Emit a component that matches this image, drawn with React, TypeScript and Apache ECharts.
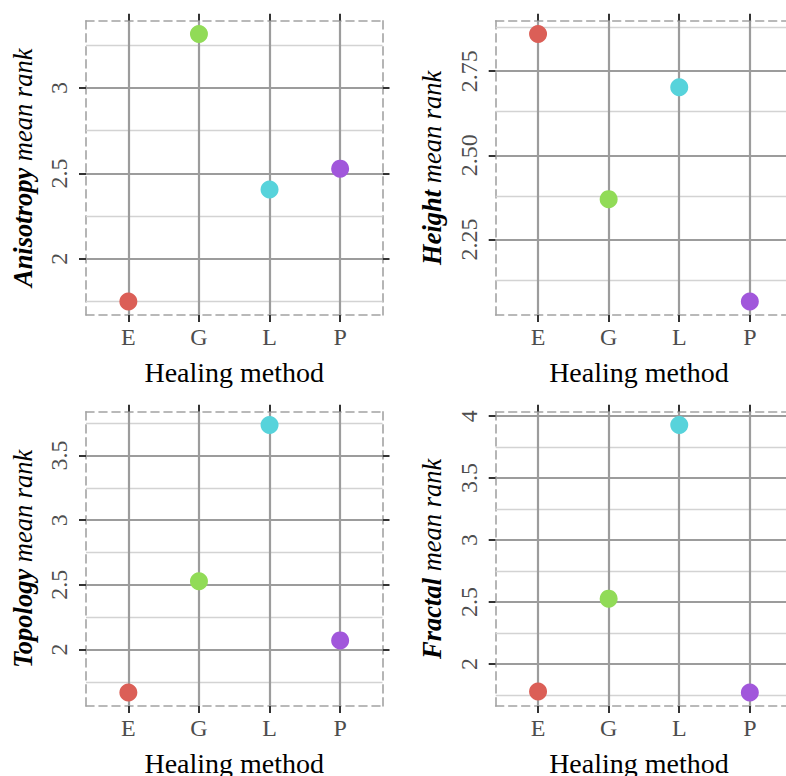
import React, { useEffect, useRef } from "react";
import * as echarts from "echarts";

const CATEGORIES = ["E", "G", "L", "P"];
const CATEGORY_POS = [1, 2, 3, 4];
const COLORS = ["#db5f57", "#91db57", "#57d3db", "#a157db"];

const anisotropy = [1.75, 3.316, 2.406, 2.528];
const heightRank = [2.86, 2.37, 2.702, 2.066];
const topology = [1.667, 2.528, 3.735, 2.07];
const fractal = [1.777, 2.527, 3.928, 1.769];

const ticksAnisotropy = [2, 2.5, 3];
const minorAnisotropy = [1.75, 2.25, 2.75, 3.25];
const ticksHeight = [2.25, 2.5, 2.75];
const minorHeight = [2.125, 2.375, 2.625, 2.875];
const ticksTopology = [2, 2.5, 3, 3.5];
const minorTopology = [1.75, 2.25, 2.75, 3.25, 3.75];
const ticksFractal = [2, 2.5, 3, 3.5, 4];
const minorFractal = [1.75, 2.25, 2.75, 3.25, 3.75];

const X_TITLE = "Healing method";
const FONT = "'Liberation Serif', 'Times New Roman', serif";

const panels = [
  { name: "Anisotropy", values: anisotropy, ticks: ticksAnisotropy, minor: minorAnisotropy, decimals: -1, left: 86, top: 20.7, shift: 0 },
  { name: "Height", values: heightRank, ticks: ticksHeight, minor: minorHeight, decimals: 2, left: 495.7, top: 20.7, shift: 10 },
  { name: "Topology", values: topology, ticks: ticksTopology, minor: minorTopology, decimals: -1, left: 86, top: 411.7, shift: 0 },
  { name: "Fractal", values: fractal, ticks: ticksFractal, minor: minorFractal, decimals: -1, left: 495.7, top: 411.7, shift: 10 },
];

const PW = 296.5;
const PH = 294.2;
const MAJOR = "#9c9c9c";
const MINOR = "#d3d3d3";
const BORDER = "#a3a3a3";
const TICK = "#333333";
const LABEL = "#4d4d4d";

function buildOption() {
  const grid: any[] = [];
  const xAxis: any[] = [];
  const yAxis: any[] = [];
  const series: any[] = [];

  panels.forEach((p, i) => {
    const mn = Math.min(...p.values);
    const mx = Math.max(...p.values);
    const pad = (mx - mn) * 0.05;
    const ymin = mn - pad;
    const ymax = mx + pad;
    grid.push({
      left: p.left,
      top: p.top,
      width: PW,
      height: PH,
      containLabel: false,
      outerBoundsMode: "none",
    });
    const axisLine = { show: true, lineStyle: { color: BORDER, width: 1.6, type: [8, 5] } };
    const tick = (vals: number[]) => ({
      show: true,
      inside: false,
      length: 7,
      customValues: vals,
      lineStyle: { color: TICK, width: 2 },
    });
    xAxis.push({
      gridIndex: i,
      type: "value",
      position: "bottom",
      min: 0.4,
      max: 4.6,
      axisLine,
      axisTick: tick(CATEGORY_POS),
      splitLine: { show: false },
      axisLabel: {
        show: true,
        customValues: CATEGORY_POS,
        formatter: (v: number) => CATEGORIES[Math.round(v) - 1] ?? "",
        fontFamily: FONT,
        fontSize: 24,
        color: LABEL,
        margin: 10,
      },
      name: X_TITLE,
      nameLocation: "middle",
      nameGap: 44,
      nameTextStyle: { fontFamily: FONT, fontSize: 28, color: "#000", padding: [0, p.shift, 0, 0] },
    });
    xAxis.push({
      gridIndex: i,
      type: "value",
      position: "top",
      min: 0.4,
      max: 4.6,
      axisLine,
      axisTick: tick(CATEGORY_POS),
      splitLine: { show: false },
      axisLabel: { show: false },
    });
    yAxis.push({
      gridIndex: i,
      type: "value",
      position: "left",
      min: ymin,
      max: ymax,
      axisLine,
      axisTick: tick(p.ticks),
      splitLine: { show: false },
      axisLabel: {
        show: true,
        customValues: p.ticks,
        rotate: 90,
        formatter: (v: number) => (p.decimals > 0 ? v.toFixed(p.decimals) : String(v)),
        fontFamily: FONT,
        fontSize: 24,
        color: LABEL,
        margin: 15,
      },
      name: `{b|${p.name}}{i| mean rank}`,
      nameLocation: "middle",
      nameRotate: 90,
      nameGap: 50,
      nameTextStyle: {
        fontFamily: FONT,
        fontSize: 26.5,
        color: "#000",
        rich: {
          b: { fontFamily: FONT, fontSize: 26.5, fontWeight: "bold", fontStyle: "italic", color: "#000" },
          i: { fontFamily: FONT, fontSize: 26.5, fontStyle: "italic", color: "#000" },
        },
      },
    });
    yAxis.push({
      gridIndex: i,
      type: "value",
      position: "right",
      min: ymin,
      max: ymax,
      axisLine,
      axisTick: tick(p.ticks),
      splitLine: { show: false },
      axisLabel: { show: false },
    });

    const lines: any[] = [];
    p.minor.forEach((v) => lines.push({ yAxis: v, lineStyle: { color: MINOR, width: 1.3, type: "solid" } }));
    p.ticks.forEach((v) => lines.push({ yAxis: v, lineStyle: { color: MAJOR, width: 2.2, type: "solid" } }));
    CATEGORY_POS.forEach((v) => lines.push({ xAxis: v, lineStyle: { color: MAJOR, width: 2.2, type: "solid" } }));

    series.push({
      type: "scatter",
      xAxisIndex: i * 2,
      yAxisIndex: i * 2,
      data: [],
      z: 1,
      silent: true,
      markLine: {
        silent: true,
        symbol: "none",
        label: { show: false },
        emphasis: { disabled: true },
        data: lines,
      },
    });
    series.push({
      type: "scatter",
      xAxisIndex: i * 2,
      yAxisIndex: i * 2,
      symbolSize: 18,
      z: 5,
      emphasis: { disabled: true },
      data: p.values.map((v, k) => ({
        value: [CATEGORY_POS[k], v],
        itemStyle: { color: COLORS[k], opacity: 1 },
      })),
    });
  });

  return {
    animation: false,
    backgroundColor: "#ffffff",
    grid,
    xAxis,
    yAxis,
    series,
  };
}

export default function App() {
  const ref = useRef<HTMLDivElement>(null);
  useEffect(() => {
    if (!ref.current) return;
    const chart = echarts.init(ref.current, undefined, { renderer: "svg" });
    chart.setOption(buildOption() as any);
    return () => chart.dispose();
  }, []);
  return (
    <div
      style={{
        position: "fixed",
        left: 0,
        top: 0,
        width: 786,
        height: 776,
        overflow: "hidden",
        background: "#fff",
      }}
    >
      <div ref={ref} style={{ width: 800, height: 776 }} />
    </div>
  );
}
